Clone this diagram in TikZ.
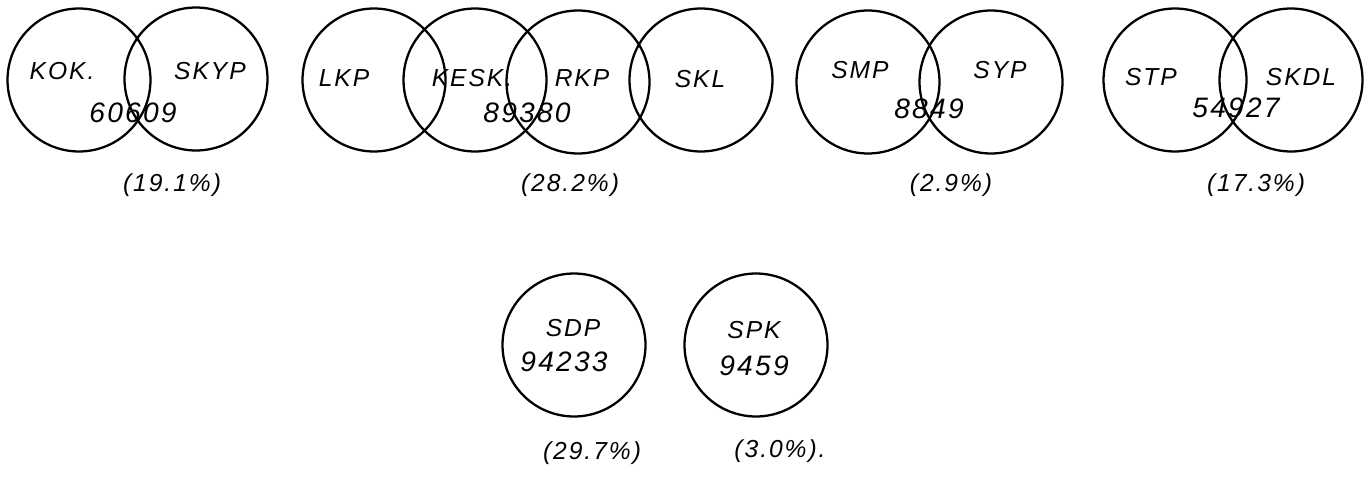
\documentclass[tikz,border=0pt]{standalone}
\usepackage{fontspec}
\newfontfamily\namefont[LetterSpace=8]{Liberation Sans}

\begin{document}
\begin{tikzpicture}[x=0.02cm, y=-0.02cm,
    party/.style={circle, draw, line width=1.3pt, minimum size=2.86cm, inner sep=0pt},
    hand/.style={font=\namefont\itshape\fontsize{14}{16}\selectfont},
    votes/.style={font=\namefont\itshape\fontsize{16}{18}\selectfont},
    share/.style={font=\namefont\itshape\fontsize{14}{16}\selectfont}]
  \useasboundingbox (0,0) rectangle (1372,477);
  % Circles, first row
  \node[party] (kok)  at (79,80)   {};
  \node[party] (skyp) at (196,79)  {};
  \node[party] (lkp)  at (374,80)  {};
  \node[party] (kesk) at (475,80)  {};
  \node[party] (rkp)  at (578,82)  {};
  \node[party] (skl)  at (701,80)  {};
  \node[party] (smp)  at (868,82)  {};
  \node[party] (syp)  at (991,82)  {};
  \node[party] (stp)  at (1175,80) {};
  \node[party] (skdl) at (1291,80) {};
  % Circles, second row
  \node[party] (sdp)  at (574,345) {};
  \node[party] (spk)  at (756,345) {};
  % Party names
  \node[hand] (kokname)  at (62,71)    {KOK.};
  \node[hand] (skypname) at (210,71)   {SKYP};
  \node[hand] (lkpname)  at (344,78)   {LKP};
  \node[hand] (keskname) at (472,78)   {KESK.};
  \node[hand] (rkpname)  at (582,78)   {RKP};
  \node[hand] (sklname)  at (700,79)   {SKL};
  \node[hand] (smpname)  at (860,70)   {SMP};
  \node[hand] (sypname)  at (1000,70)  {SYP};
  \node[hand] (stpname)  at (1151,77)  {STP};
  \node[hand] (skdlname) at (1301,77)  {SKDL};
  \node[hand] (sdpname)  at (573,328)  {SDP};
  \node[hand] (spkname)  at (754,330)  {SPK};
  % Votes
  \node[votes] (kokvotes)  at (133,113)  {60609};
  \node[votes] (keskvotes) at (527,113)  {89380};
  \node[votes] (smpvotes)  at (929,109)  {8849};
  \node[votes] (stpvotes)  at (1236,108) {54927};
  \node[votes] (sdpvotes)  at (564,362)  {94233};
  \node[votes] (spkvotes)  at (754,366)  {9459};
  % Shares
  \node[share] (kokshare)  at (172,185)  {(19.1\%)};
  \node[share] (keskshare) at (570,185)  {(28.2\%)};
  \node[share] (smpshare)  at (951,185)  {(2.9\%)};
  \node[share] (stpshare)  at (1256,185) {(17.3\%)};
  \node[share] (sdpshare)  at (592,453)  {(29.7\%)};
  \node[share] (spkshare)  at (780,451)  {(3.0\%).};
\end{tikzpicture}
\end{document}
